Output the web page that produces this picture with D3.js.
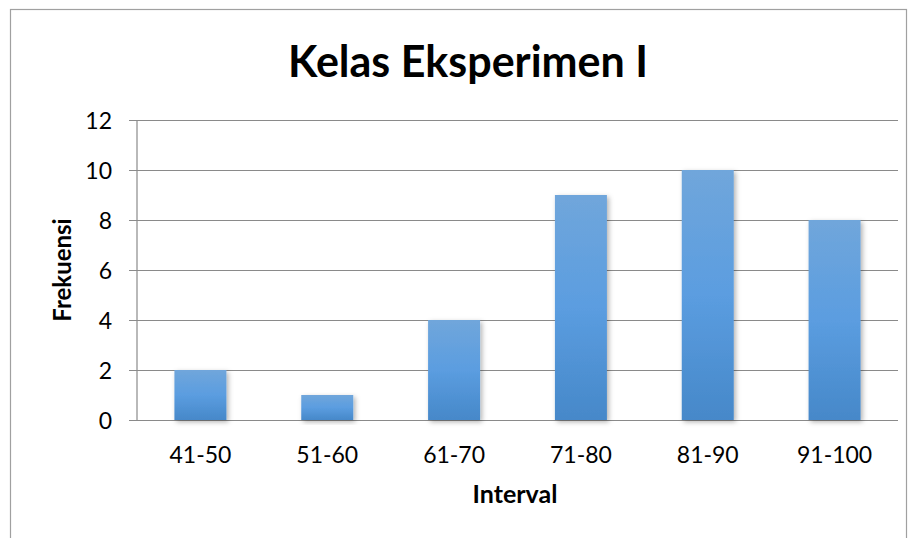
<!DOCTYPE html>
<html>
<head>
<meta charset="utf-8">
<script src="https://cdn.jsdelivr.net/npm/d3@7"></script>
<style>
  body { margin: 0; background: #fff; }
  text { font-family: Lato, "Open Sans", sans-serif; fill: #000; }
</style>
</head>
<body>
<script>
var categories = ["41-50", "51-60", "61-70", "71-80", "81-90", "91-100"];
var frekuensi = [2, 1, 4, 9, 10, 8];
var yTicks = [0, 2, 4, 6, 8, 10, 12];

var svgWidth = 914;
var svgHeight = 538;

var margin = { top: 120, right: 16, bottom: 118, left: 137 };
var width = svgWidth - margin.left - margin.right;
var height = svgHeight - margin.top - margin.bottom;

var svg = d3.select("body")
  .append("svg")
  .attr("width", svgWidth)
  .attr("height", svgHeight);

// gradient + shadow for the bars
var defs = svg.append("defs");
var grad = defs.append("linearGradient")
  .attr("id", "barGrad")
  .attr("x1", 0).attr("y1", 0).attr("x2", 0).attr("y2", 1);
grad.append("stop").attr("offset", "0%").attr("stop-color", "#70a6db");
grad.append("stop").attr("offset", "50%").attr("stop-color", "#5b9de0");
grad.append("stop").attr("offset", "100%").attr("stop-color", "#4688c9");

var shadow = defs.append("filter").attr("id", "shadow")
  .attr("x", "-20%").attr("y", "-10%").attr("width", "150%").attr("height", "130%");
shadow.append("feDropShadow")
  .attr("dx", 2).attr("dy", 2).attr("stdDeviation", 2.5)
  .attr("flood-color", "#000").attr("flood-opacity", 0.3);

// chart border
svg.append("rect")
  .attr("x", 10.5).attr("y", 9.5)
  .attr("width", 896).attr("height", 560)
  .attr("fill", "none")
  .attr("stroke", "#a0a0a0")
  .attr("stroke-width", 1.2);

var chartGroup = svg.append("g")
  .attr("transform", `translate(${margin.left}, ${margin.top})`);

var xScale = d3.scaleBand()
  .domain(categories)
  .range([0, width])
  .paddingInner(0.59)
  .paddingOuter(0.295);

var yScale = d3.scaleLinear()
  .domain([0, 12])
  .range([height, 0]);

// gridlines + y axis
var leftAxis = d3.axisLeft(yScale)
  .tickValues(yTicks)
  .tickSize(-width)
  .tickPadding(25);

var yAxisG = chartGroup.append("g").call(leftAxis);
yAxisG.select(".domain").remove();
yAxisG.selectAll(".tick line")
  .attr("x1", -8)
  .attr("stroke", "#8a8a8a")
  .attr("stroke-width", 1.2);
yAxisG.selectAll(".tick text")
  .style("font-size", "23px")
  .attr("dy", "0.35em");

// vertical axis line
chartGroup.append("line")
  .attr("x1", 0).attr("x2", 0)
  .attr("y1", 0).attr("y2", height)
  .attr("stroke", "#8a8a8a")
  .attr("stroke-width", 1.2);

// bars
chartGroup.selectAll(".bar")
  .data(frekuensi)
  .enter()
  .append("rect")
  .attr("class", "bar")
  .attr("x", (d, i) => xScale(categories[i]))
  .attr("y", d => yScale(d))
  .attr("width", xScale.bandwidth())
  .attr("height", d => height - yScale(d))
  .attr("fill", "url(#barGrad)")
  .attr("filter", "url(#shadow)");

// x axis labels
var bottomAxis = d3.axisBottom(xScale).tickSize(0);
var xAxisG = chartGroup.append("g")
  .attr("transform", `translate(0, ${height})`)
  .call(bottomAxis);
xAxisG.select(".domain").remove();
xAxisG.selectAll(".tick text")
  .style("font-size", "23px")
  .attr("y", 43)
  .attr("dy", 0);

// title
svg.append("text")
  .attr("x", 468)
  .attr("y", 77)
  .attr("text-anchor", "middle")
  .style("font-size", "43px")
  .style("font-weight", "bold")
  .text("Kelas Eksperimen I");

// axis titles
svg.append("text")
  .attr("x", 515)
  .attr("y", 503)
  .attr("text-anchor", "middle")
  .style("font-size", "25px")
  .style("font-weight", "bold")
  .text("Interval");

svg.append("text")
  .attr("transform", `translate(71, ${margin.top + height / 2}) rotate(-90)`)
  .attr("text-anchor", "middle")
  .style("font-size", "24px")
  .style("font-weight", "bold")
  .text("Frekuensi");
</script>
</body>
</html>
